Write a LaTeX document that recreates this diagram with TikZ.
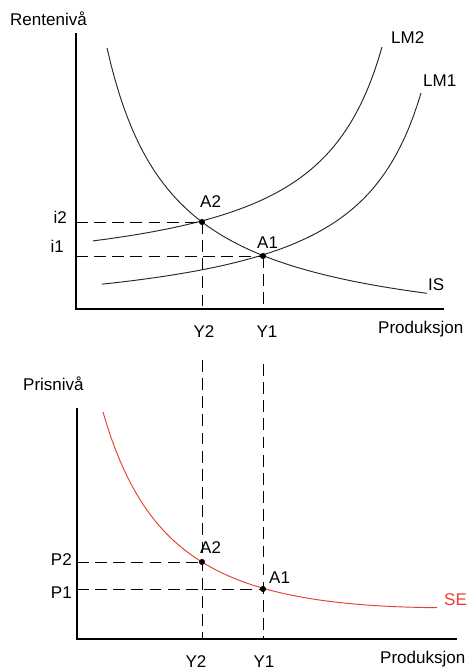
\documentclass[tikz,border=0pt]{standalone}
\usepackage{fontspec}
\setmainfont{Liberation Sans}
\usepackage{xcolor}
\usetikzlibrary{positioning}
\definecolor{serot}{RGB}{232,62,50}

\begin{document}
\begin{tikzpicture}[x=0.03cm, y=-0.03cm, font=\fontsize{14.5}{17}\selectfont,
    akse/.style={line width=1.7pt},
    kurve/.style={line width=0.8pt, black!85},
    hjelpelinje/.style={line width=0.8pt, dash pattern=on 10pt off 5.5pt},
    punkt/.style={circle, fill=black, inner sep=0pt, minimum size=5.2pt},
    merke/.style={inner sep=0pt, anchor=base west}]
    \useasboundingbox (0,0) rectangle (467,672);

    % Upper diagram: IS-LM
    \coordinate (o1) at (76,309);
    \coordinate (ytopp1) at (76,33);
    \coordinate (xende1) at (444,309);
    \draw[akse] (ytopp1) -- (o1) -- (xende1);
    \node[merke] (rente) at (10,25) {Rentenivå};
    \node[merke] (prod1) at (378,333) {Produksjon};

    % Curves
    \draw[kurve] plot[domain=107:427, samples=80] (\x, {344.7 - 100*(198.81/(\x-40))});
    \draw[kurve] plot[domain=93:382, samples=80] (\x, {286.5 - 100*(162.8/(450-\x))});
    \draw[kurve] plot[domain=102:421, samples=80] (\x, {325.5 - 100*(160.4/(490-\x))});
    \node[merke] (lm2) at (391,43) {LM2};
    \node[merke] (lm1) at (423,86) {LM1};
    \node[merke] (is) at (428,290) {IS};

    % Equilibria
    \node[punkt] (A2o) at (202,222) {};
    \node[punkt] (A1o) at (263,256) {};
    \node[merke] (A2otekst) at (200,207) {A2};
    \node[merke] (A1otekst) at (257,248) {A1};

    % Guide lines
    \draw[hjelpelinje] (A2o -| o1) -- (A2o.center);
    \draw[hjelpelinje] (A1o -| o1) -- (A1o.center);
    \draw[hjelpelinje] (A2o.center) -- (A2o |- o1);
    \draw[hjelpelinje] (A1o.center) -- (A1o |- o1);
    \node[inner sep=0pt, anchor=base east] (i2) at (67,223) {i2};
    \node[inner sep=0pt, anchor=base east] (i1) at (64,252) {i1};
    \node[inner sep=0pt, anchor=base] (Y2o) at (204,337) {Y2};
    \node[inner sep=0pt, anchor=base] (Y1o) at (267,337) {Y1};

    % Lower diagram: price level
    \coordinate (o2) at (77,639);
    \coordinate (ytopp2) at (77,408);
    \coordinate (xende2) at (457,639);
    \draw[akse] (ytopp2) -- (o2) -- (xende2);
    \node[merke] (pris) at (23,390) {Prisnivå};
    \node[merke] (prod2) at (380,663) {Produksjon};

    \draw[line width=0.8pt, serot] plot[domain=103:437, samples=80]
        (\x, {726 - 0.134*\x - 100*(249.15/(\x-20))});
    \node[merke, text=serot] (se) at (444,605) {SE};

    \node[punkt] (A2u) at (202,562) {};
    \node[punkt] (A1u) at (263,589) {};
    \node[merke] (A2utekst) at (200,553) {A2};
    \node[merke] (A1utekst) at (269,583) {A1};

    \coordinate (Y2start) at (202,360);
    \coordinate (Y1start) at (263,364);
    \draw[hjelpelinje] (Y2start) -- (Y2start |- o2);
    \draw[hjelpelinje] (Y1start) -- (Y1start |- o2);
    \draw[hjelpelinje] (A2u -| o2) -- (A2u.center);
    \draw[hjelpelinje] (A1u -| o2) -- (A1u.center);
    \node[inner sep=0pt, anchor=base east] (P2) at (72,565) {P2};
    \node[inner sep=0pt, anchor=base east] (P1) at (72,598) {P1};
    \node[inner sep=0pt, anchor=base] (Y2u) at (196,667) {Y2};
    \node[inner sep=0pt, anchor=base] (Y1u) at (264,667) {Y1};
\end{tikzpicture}
\end{document}
